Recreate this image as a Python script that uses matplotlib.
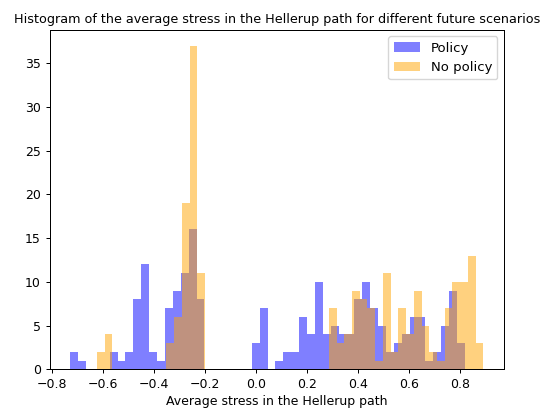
import numpy as np
import matplotlib
matplotlib.use("Agg")
import matplotlib.pyplot as plt

# Histogramas del estrés promedio en la ruta Hellerup
# cada serie usa 50 bins sobre su propio rango
policy_range = (-0.728, 0.820)
no_policy_range = (-0.623, 0.892)

policy_counts = [2, 1, 0, 0, 0, 2, 1, 2, 8, 12,
                 2, 1, 7, 9, 11, 16, 8, 0, 0, 0,
                 0, 0, 0, 3, 7, 0, 1, 2, 2, 6,
                 4, 10, 4, 5, 4, 4, 8, 10, 7, 5,
                 2, 3, 4, 6, 6, 1, 2, 5, 9, 3]

no_policy_counts = [2, 4, 0, 0, 0, 0, 0, 0, 0, 3,
                    6, 19, 37, 11, 0, 0, 0, 0, 0, 0,
                    0, 0, 0, 0, 0, 0, 0, 0, 0, 0,
                    7, 3, 4, 9, 8, 7, 1, 11, 2, 7,
                    4, 9, 5, 2, 1, 7, 10, 10, 13, 3]

s = 0.9  # escala de fuentes (figura original a ~90 dpi)
plt.rcParams['font.size'] = 10 * s
plt.rcParams['axes.linewidth'] = 0.8 * s
plt.rcParams['xtick.major.width'] = 0.8 * s
plt.rcParams['ytick.major.width'] = 0.8 * s
plt.rcParams['xtick.major.size'] = 3.5 * s
plt.rcParams['ytick.major.size'] = 3.5 * s
plt.rcParams['xtick.major.pad'] = 3.5 * s
plt.rcParams['ytick.major.pad'] = 3.5 * s

fig = plt.figure(figsize=(5.47, 4.09), dpi=100)
ax = fig.add_axes([49.5 / 547, 39.7 / 409, 454.5 / 547, 339.6 / 409])


def dibujar(rango, cuentas, color, nombre):
    bordes = np.linspace(rango[0], rango[1], len(cuentas) + 1)
    centros = (bordes[:-1] + bordes[1:]) / 2
    ax.hist(centros, bins=bordes, weights=cuentas, color=color, alpha=0.5, label=nombre)


dibujar(policy_range, policy_counts, 'blue', 'Policy')
dibujar(no_policy_range, no_policy_counts, 'orange', 'No policy')

ax.set_title("Histogram of the average stress in the Hellerup path for different future scenarios",
             fontsize=9.15, pad=5)
ax.set_xlabel("Average stress in the Hellerup path", labelpad=3)
ax.legend(loc='upper right', fontsize=9.5)

fig.savefig("out.png", dpi=100)
